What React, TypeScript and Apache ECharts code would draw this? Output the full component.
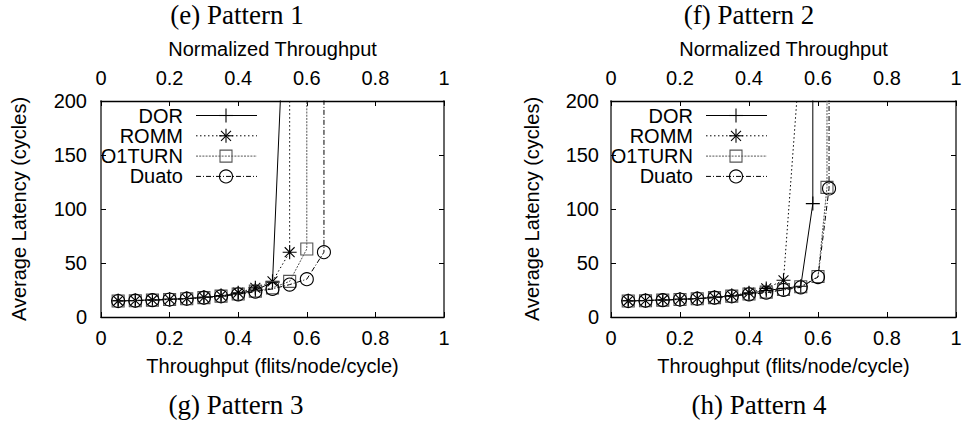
import React, { useEffect, useRef } from 'react';
import * as echarts from 'echarts';

// ---------- data ----------
const seriesNames = ['DOR', 'ROMM', 'O1TURN', 'Duato'];
const panelTitlesTop = ['(e) Pattern 1', '(f) Pattern 2'];
const panelTitlesBottom = ['(g) Pattern 3', '(h) Pattern 4'];
const xAxisName = 'Throughput (flits/node/cycle)';
const xTopName = 'Normalized Throughput';
const yAxisName = 'Average Latency (cycles)';

// Pattern 1 (left panel)
const p1DorX = [0.05, 0.1, 0.15, 0.2, 0.25, 0.3, 0.35, 0.4, 0.45, 0.5, 0.55];
const p1DorY = [15, 15.3, 15.8, 16.4, 17.1, 18.2, 19.6, 21.8, 25, 32, 400];
const p1RommX = [0.05, 0.1, 0.15, 0.2, 0.25, 0.3, 0.35, 0.4, 0.45, 0.5, 0.55, 0.551];
const p1RommY = [15, 15.3, 15.8, 16.4, 17.1, 18.2, 19.8, 22.5, 27, 33, 60, 5000];
const p1O1X = [0.05, 0.1, 0.15, 0.2, 0.25, 0.3, 0.35, 0.4, 0.45, 0.5, 0.55, 0.6, 0.6];
const p1O1Y = [14.8, 15.1, 15.6, 16.2, 16.9, 17.9, 19.3, 21.3, 24, 27, 33, 63, 5000];
const p1DuX = [0.05, 0.1, 0.15, 0.2, 0.25, 0.3, 0.35, 0.4, 0.45, 0.5, 0.55, 0.6, 0.65, 0.652];
const p1DuY = [14.8, 15.1, 15.6, 16.2, 16.9, 17.9, 19.2, 21, 23.5, 26, 30, 35, 60, 5000];

// Pattern 2 (right panel)
const p2DorX = [0.05, 0.1, 0.15, 0.2, 0.25, 0.3, 0.35, 0.4, 0.45, 0.5, 0.55, 0.585, 0.585];
const p2DorY = [15, 15.3, 15.8, 16.4, 17.1, 18.2, 19.6, 21.8, 24.5, 26.5, 28.5, 105, 5000];
const p2RommX = [0.05, 0.1, 0.15, 0.2, 0.25, 0.3, 0.35, 0.4, 0.45, 0.5, 0.55];
const p2RommY = [15, 15.3, 15.8, 16.4, 17.1, 18.2, 19.8, 22.5, 26.5, 34, 250];
const p2O1X = [0.05, 0.1, 0.15, 0.2, 0.25, 0.3, 0.35, 0.4, 0.45, 0.5, 0.55, 0.6, 0.626, 0.628];
const p2O1Y = [14.8, 15.1, 15.6, 16.2, 16.9, 17.9, 19.3, 21.3, 23, 25.5, 28, 37.5, 120, 5000];
const p2DuX = [0.05, 0.1, 0.15, 0.2, 0.25, 0.3, 0.35, 0.4, 0.45, 0.5, 0.55, 0.6, 0.632, 0.634];
const p2DuY = [14.8, 15.1, 15.6, 16.2, 16.9, 17.9, 19.2, 21, 22.5, 25, 27.5, 37, 119, 5000];

const panels = [
  [[p1DorX, p1DorY], [p1RommX, p1RommY], [p1O1X, p1O1Y], [p1DuX, p1DuY]],
  [[p2DorX, p2DorY], [p2RommX, p2RommY], [p2O1X, p2O1Y], [p2DuX, p2DuY]],
];

// ---------- styles ----------
const SANS = 'Liberation Sans, Arial, sans-serif';
const SERIF = 'Liberation Serif, Times New Roman, serif';
const FS = 20;

const styles = [
  { color: '#000', dash: 'solid' as any, symbol: 'path://M0,6L12,6M6,0L6,12', size: 14, kind: 'plus' },
  { color: '#000', dash: [1.5, 2.5], symbol: 'path://M0,6L12,6M6,0L6,12M1.76,1.76L10.24,10.24M1.76,10.24L10.24,1.76', size: 14, kind: 'star' },
  { color: '#555', dash: [2, 1.2], symbol: 'rect', size: 12, kind: 'rect' },
  { color: '#000', dash: [5, 2, 1, 2], symbol: 'circle', size: 13, kind: 'circle' },
];

const grids = [
  { left: 101, top: 101, width: 343, height: 216 },
  { left: 611, top: 101, width: 345, height: 216 },
];
const yLabelMargin = [14, 12];
const yNameGap = [72, 69.5];

function legendGraphics(x0: number) {
  const els: any[] = [];
  seriesNames.forEach((name, i) => {
    const y = 115.5 + i * 20.3;
    const st = styles[i];
    els.push({
      type: 'text',
      x: x0 + 82,
      y,
      style: {
        text: name, fontFamily: SANS, fontSize: FS, fill: '#000',
        align: 'right', verticalAlign: 'middle', textAlign: 'right', textVerticalAlign: 'middle',
      },
    });
    els.push({
      type: 'line',
      shape: { x1: x0 + 95, y1: y, x2: x0 + 156, y2: y },
      style: { stroke: st.color, lineWidth: 1, lineDash: st.dash === 'solid' ? null : st.dash },
    });
    const cx = x0 + 125;
    const mk = { stroke: st.color, lineWidth: 1.1, fill: 'none' };
    if (st.kind === 'plus' || st.kind === 'star') {
      els.push({ type: 'line', shape: { x1: cx - 7, y1: y, x2: cx + 7, y2: y }, style: mk });
      els.push({ type: 'line', shape: { x1: cx, y1: y - 7, x2: cx, y2: y + 7 }, style: mk });
      if (st.kind === 'star') {
        els.push({ type: 'line', shape: { x1: cx - 5, y1: y - 5, x2: cx + 5, y2: y + 5 }, style: mk });
        els.push({ type: 'line', shape: { x1: cx - 5, y1: y + 5, x2: cx + 5, y2: y - 5 }, style: mk });
      }
    } else if (st.kind === 'rect') {
      els.push({ type: 'rect', shape: { x: cx - 6, y: y - 6, width: 12, height: 12 }, style: mk });
    } else {
      els.push({ type: 'circle', shape: { cx, cy: y, r: 6.5 }, style: mk });
    }
  });
  return els;
}

function centerText(text: string, x: number, y: number, font: string, size: number) {
  return {
    type: 'text', x, y,
    style: {
      text, fontFamily: font, fontSize: size, fill: '#000',
      align: 'center', verticalAlign: 'middle', textAlign: 'center', textVerticalAlign: 'middle',
    },
  };
}

export default function App() {
  const ref = useRef<HTMLDivElement>(null);
  useEffect(() => {
    if (!ref.current) return;
    const chart = echarts.init(ref.current, undefined, { renderer: 'svg' });

    const xAxes: any[] = [];
    const yAxes: any[] = [];
    const series: any[] = [];
    const tickStyle = { show: true, inside: true, length: 5, lineStyle: { color: '#000', width: 1 } };
    const hLine = { show: true, onZero: false, lineStyle: { color: '#000', width: 1.3 } };
    const vLine = { show: true, onZero: false, lineStyle: { color: '#666', width: 2 } };

    grids.forEach((g, gi) => {
      xAxes.push({
        type: 'value', gridIndex: gi, position: 'bottom', min: 0, max: 1, interval: 0.2,
        name: xAxisName, nameLocation: 'middle', nameGap: 39,
        nameTextStyle: { fontFamily: SANS, fontSize: FS, color: '#000' },
        axisLine: hLine, axisTick: tickStyle,
        axisLabel: { margin: 11, fontFamily: SANS, fontSize: FS, color: '#000' },
        splitLine: { show: false },
      });
      xAxes.push({
        type: 'value', gridIndex: gi, position: 'top', min: 0, max: 1, interval: 0.2,
        name: xTopName, nameLocation: 'middle', nameGap: 42,
        nameTextStyle: { fontFamily: SANS, fontSize: FS, color: '#000' },
        axisLine: hLine, axisTick: tickStyle,
        axisLabel: { margin: 13, fontFamily: SANS, fontSize: FS, color: '#000' },
        splitLine: { show: false },
      });
      yAxes.push({
        type: 'value', gridIndex: gi, position: 'left', min: 0, max: 200, interval: 50,
        name: yAxisName, nameLocation: 'middle', nameGap: yNameGap[gi], nameRotate: 90,
        nameTextStyle: { fontFamily: SANS, fontSize: FS, color: '#000' },
        axisLine: vLine, axisTick: tickStyle,
        axisLabel: { margin: yLabelMargin[gi], fontFamily: SANS, fontSize: FS, color: '#000' },
        splitLine: { show: false },
      });
      yAxes.push({
        type: 'value', gridIndex: gi, position: 'right', min: 0, max: 200, interval: 50,
        axisLine: vLine, axisTick: tickStyle,
        axisLabel: { show: false },
        splitLine: { show: false },
      });

      panels[gi].forEach(([xs, ys], si) => {
        const st = styles[si];
        const hollow = st.kind === 'rect' || st.kind === 'circle';
        series.push({
          type: 'line',
          name: seriesNames[si],
          xAxisIndex: gi * 2,
          yAxisIndex: gi * 2,
          data: xs.map((x: number, i: number) => [x, ys[i]]),
          symbol: st.symbol,
          symbolSize: st.size,
          showAllSymbol: true,
          clip: true,
          lineStyle: { color: st.color, width: 1, type: st.dash },
          itemStyle: {
            color: hollow ? 'rgba(0,0,0,0)' : st.color,
            borderColor: st.color,
            borderWidth: 1.1,
          },
          emphasis: { disabled: true },
          z: 2 + si,
        });
      });
    });

    const graphics: any[] = [
      centerText(panelTitlesTop[0], 237, 15, SERIF, 27),
      centerText(panelTitlesTop[1], 749, 15, SERIF, 27),
      centerText(panelTitlesBottom[0], 236, 405, SERIF, 27),
      centerText(panelTitlesBottom[1], 759, 405, SERIF, 27),
      ...legendGraphics(grids[0].left),
      ...legendGraphics(grids[1].left),
    ];

    chart.setOption({
      animation: false,
      backgroundColor: '#fff',
      grid: grids,
      xAxis: xAxes,
      yAxis: yAxes,
      series,
      graphic: graphics,
    });
    return () => chart.dispose();
  }, []);
  return (
    <div
      ref={ref}
      style={{ position: 'fixed', left: 0, top: 0, width: 977, height: 423, background: '#fff' }}
    />
  );
}
